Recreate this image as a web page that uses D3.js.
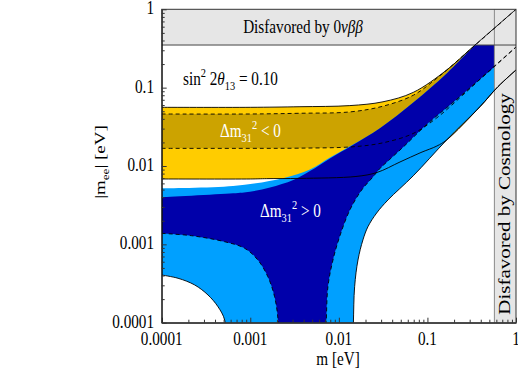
<!DOCTYPE html>
<html>
<head>
<meta charset="utf-8">
<script src="https://cdn.jsdelivr.net/npm/d3@7"></script>
<style>
  body { margin: 0; background: #fff; }
  text { font-family: "Liberation Serif", "Times New Roman", serif; }
</style>
</head>
<body>
<div id="chart"></div>
<script>
// axis ticks
var massTicks = [0.0001, 0.001, 0.01, 0.1, 1];
var massTickLabels = ["0.0001", "0.001", "0.01", "0.1", "1"];
var meeTicks = [0.0001, 0.001, 0.01, 0.1, 1];
var meeTickLabels = ["0.0001", "0.001", "0.01", "0.1", "1"];

// excluded regions
var mee0nbbLimit = 0.35;
var massCosmoLimit = 0.57;

// boundaries: [m (eV), |m_ee| (eV)]
// inverted hierarchy, full range (light yellow)
var ihOuterMax = [[1e-4, 0.0561], [1e-3, 0.0561], [3.64e-3, 0.0571], [0.0133, 0.059], [0.0315, 0.066],
  [0.0692, 0.087], [0.165, 0.168], [0.302, 0.307], [0.392, 0.398], [1, 1.0]];
var ihOuterMin = [[1e-4, 0.00683], [1e-3, 0.00683], [1.53e-3, 0.0069], [3.64e-3, 0.00695], [0.0156, 0.00735],
  [0.0269, 0.00826], [0.049, 0.01125], [0.0845, 0.01487], [0.128, 0.018], [0.165, 0.0215],
  [0.392, 0.0571], [0.625, 0.1028], [1, 0.168]];
// inverted hierarchy, best fit (dark yellow)
var ihBestMax = [[1e-4, 0.0461], [1e-3, 0.0461], [3.64e-3, 0.0471], [0.0133, 0.049], [0.0315, 0.058],
  [0.0692, 0.08], [0.127, 0.131], [0.302, 0.305], [1, 0.999]];
var ihBestMin = [[1e-4, 0.0168], [1e-3, 0.0168], [3.6e-3, 0.0169], [0.0145, 0.0176], [0.0317, 0.0198],
  [0.069, 0.026], [0.127, 0.041], [0.25, 0.08], [0.5, 0.165], [1, 0.33]];
// normal hierarchy, full range (light blue)
var nhOuterMax = [[1e-4, 5.19e-3], [6.4e-4, 5.55e-3], [2.34e-3, 6.97e-3], [4.72e-3, 9.0e-3], [7.94e-3, 0.0128],
  [0.0141, 0.0185], [0.0291, 0.0304], [0.0692, 0.0646], [0.165, 0.152], [0.302, 0.3], [0.392, 0.39], [1, 0.99]];
var nhOuterMin = [[0.0144, 5e-5], [0.0146, 1e-4], [0.01507, 2.88e-4], [0.01644, 6.31e-4], [0.0187, 1.14e-3],
  [0.0213, 1.68e-3], [0.0267, 2.51e-3], [0.0358, 3.68e-3], [0.0692, 7.5e-3], [0.165, 0.0215],
  [0.392, 0.0571], [0.625, 0.1028], [1, 0.168]];
var nhOuterHole = [[1e-4, 4.06e-4], [1.53e-4, 3.69e-4], [2.36e-4, 3.03e-4], [3.33e-4, 2.26e-4],
  [4.32e-4, 1.6e-4], [5.14e-4, 1.08e-4], [5.3e-4, 5e-5]];
// normal hierarchy, best fit (dark blue)
var nhBestMax = [[1e-4, 3.99e-3], [6.4e-4, 4.48e-3], [9.9e-4, 4.7e-3], [1.67e-3, 5.32e-3], [3.06e-3, 6.63e-3],
  [4.72e-3, 8.63e-3], [7.94e-3, 0.0125], [0.0141, 0.0183], [0.0291, 0.0303], [0.0692, 0.0645],
  [0.165, 0.152], [0.302, 0.3], [0.392, 0.39], [1, 0.99]];
var nhBestMin = [[0.007, 5e-5], [0.0072, 1e-4], [0.00753, 2.88e-4], [0.00858, 6.31e-4], [0.0102, 1.25e-3],
  [0.0133, 2.74e-3], [0.0181, 4.94e-3], [0.0244, 7.3e-3], [0.0291, 9.3e-3], [0.0377, 0.0122],
  [0.0557, 0.0183], [0.1, 0.0345], [0.2, 0.0665], [0.578, 0.188], [1, 0.33]];
var nhBestHole = [[1e-4, 1.38e-3], [2.16e-4, 1.29e-3], [5.14e-4, 1.08e-3], [8.65e-4, 8.9e-4], [1.22e-3, 6.3e-4],
  [1.58e-3, 3.86e-4], [1.88e-3, 2.15e-4], [2.06e-3, 1.08e-4], [2.1e-3, 5e-5]];

var width = 518, height = 382;
var pLeft = 161.7, pRight = 516, pTop = 9.3, pBottom = 322.7;
var sx = 0.8; // glyphs in the picture are narrow

var svg = d3.select("#chart").append("svg")
  .attr("width", width).attr("height", height);

var x = d3.scaleLog().domain([1e-4, 1]).range([pLeft, pRight]);
var y = d3.scaleLog().domain([1e-4, 1]).range([pBottom, pTop]);

svg.append("clipPath").attr("id", "plot")
  .append("rect").attr("x", pLeft).attr("y", pTop)
  .attr("width", pRight - pLeft).attr("height", pBottom - pTop);

var lineGen = d3.line()
  .x(d => x(d[0])).y(d => y(d[1]))
  .curve(d3.curveCatmullRom.alpha(0.5));

function joinPath(segs) {
  return segs.map((s, i) => {
    var p = lineGen(s);
    return i === 0 ? p : "L" + p.slice(1);
  }).join("") + "Z";
}
function rev(a) { return a.slice().reverse(); }

var g = svg.append("g").attr("clip-path", "url(#plot)");

// regions (yellow first, blue drawn over it)
g.append("path").attr("d", joinPath([ihOuterMax, rev(ihOuterMin)]))
  .attr("fill", "#ffcc00");
g.append("path").attr("d", joinPath([ihBestMax, rev(ihBestMin)]))
  .attr("fill", "#cca300");
g.append("path").attr("d", joinPath([nhOuterMax, rev(nhOuterMin), rev(nhOuterHole)]))
  .attr("fill", "#00a0ff");
g.append("path").attr("d", joinPath([nhBestMax, rev(nhBestMin), rev(nhBestHole)]))
  .attr("fill", "#0000aa");

// disfavored bands
g.append("rect").attr("x", pLeft).attr("y", pTop)
  .attr("width", pRight - pLeft).attr("height", y(mee0nbbLimit) - pTop)
  .attr("fill", "#e6e6e6");
g.append("rect").attr("x", x(massCosmoLimit)).attr("y", pTop)
  .attr("width", pRight - x(massCosmoLimit)).attr("height", pBottom - pTop)
  .attr("fill", "#e6e6e6");
g.append("line").attr("x1", x(massCosmoLimit)).attr("x2", x(massCosmoLimit))
  .attr("y1", pTop).attr("y2", pBottom).attr("stroke", "#8a8a8a").attr("stroke-width", 1);
g.append("line").attr("x1", pLeft).attr("x2", pRight)
  .attr("y1", y(mee0nbbLimit)).attr("y2", y(mee0nbbLimit))
  .attr("stroke", "#444").attr("stroke-width", 1);

// boundary curves
var solid = [ihOuterMax, ihOuterMin, nhOuterMin, nhOuterHole];
var dashed = [ihBestMax, ihBestMin, nhBestMin, nhBestHole];
solid.forEach(c => g.append("path").attr("d", lineGen(c))
  .attr("fill", "none").attr("stroke", "#000").attr("stroke-width", 0.9));
dashed.forEach(c => g.append("path").attr("d", lineGen(c))
  .attr("fill", "none").attr("stroke", "#000").attr("stroke-width", 0.9)
  .attr("stroke-dasharray", "4,3"));

// axes with minor ticks pointing inwards
var minor = [];
[1e-4, 1e-3, 1e-2, 1e-1].forEach(d => { for (var k = 1; k < 10; k++) minor.push(d * k); });
minor.push(1);

var xAxis = svg.append("g").attr("transform", "translate(0," + pBottom + ")")
  .call(d3.axisBottom(x).tickValues(minor).tickFormat("").tickSizeOuter(0));
var yAxis = svg.append("g").attr("transform", "translate(" + pLeft + ",0)")
  .call(d3.axisLeft(y).tickValues(minor).tickFormat("").tickSizeOuter(0));
function isMajor(d) { return Math.abs(Math.log10(d) - Math.round(Math.log10(d))) < 1e-6; }
xAxis.selectAll(".tick line").attr("y2", d => isMajor(d) ? -5 : -3).attr("stroke", "#333");
yAxis.selectAll(".tick line").attr("x2", d => isMajor(d) ? 5 : 3).attr("stroke", "#333");
xAxis.select(".domain").attr("stroke", "#000");
yAxis.select(".domain").attr("stroke", "#000");

svg.append("rect").attr("x", pLeft).attr("y", pTop)
  .attr("width", pRight - pLeft).attr("height", pBottom - pTop)
  .attr("fill", "none").attr("stroke", "#333").attr("stroke-width", 1);

// tick labels
massTicks.forEach((d, i) => {
  svg.append("text").attr("transform", "translate(" + x(d) + ",345) scale(" + sx + ",1)")
    .attr("text-anchor", "middle").attr("font-size", 19).text(massTickLabels[i]);
});
meeTicks.forEach((d, i) => {
  svg.append("text").attr("transform", "translate(154," + (y(d) + 5) + ") scale(" + sx + ",1)")
    .attr("text-anchor", "end").attr("font-size", 19).text(meeTickLabels[i]);
});

// rich text helper: parts = [text, kind] with kind "", "i", "sub", "sup"
function rich(t, parts, size) {
  var small = Math.round(size * 0.68);
  var shift = 0;
  parts.forEach(p => {
    var target = p[1] === "sub" ? size * 0.28 : p[1] === "sup" ? -size * 0.42 : 0;
    var ts = t.append("tspan").attr("dy", target - shift)
      .attr("font-size", (p[1] === "sub" || p[1] === "sup") ? small : size)
      .text(p[0]);
    if (p[1] === "i") ts.attr("font-style", "italic");
    shift = target;
  });
  return t;
}

rich(svg.append("text").attr("transform", "translate(303,33) scale(" + sx + ",1)")
  .attr("text-anchor", "middle").attr("font-size", 19),
  [["Disfavored by 0", ""], ["νββ", "i"]], 19);

rich(svg.append("text").attr("transform", "translate(183,85) scale(" + sx + ",1)")
  .attr("font-size", 19),
  [["sin", ""], ["2", "sup"], [" 2", ""], ["θ", "i"], ["13", "sub"], [" = 0.10", ""]], 19);

rich(svg.append("text").attr("transform", "translate(220,137) scale(" + sx + ",1)")
  .attr("font-size", 19).attr("fill", "#fff"),
  [["Δm", ""], ["31", "sub"], ["2", "sup"], [" < 0", ""]], 19);

rich(svg.append("text").attr("transform", "translate(260,217) scale(" + sx + ",1)")
  .attr("font-size", 19).attr("fill", "#fff"),
  [["Δm", ""], ["31", "sub"], ["2", "sup"], [" > 0", ""]], 19);

svg.append("text").attr("transform", "translate(510,204) rotate(-90) scale(1," + sx + ")")
  .attr("text-anchor", "middle").attr("font-size", 21).text("Disfavored by Cosmology");

// axis titles
svg.append("text").attr("transform", "translate(338,365) scale(" + sx + ",1)")
  .attr("text-anchor", "middle").attr("font-size", 19).text("m [eV]");
rich(svg.append("text").attr("transform", "translate(105,162) rotate(-90) scale(1," + sx + ")")
  .attr("text-anchor", "middle").attr("font-size", 19),
  [["|m", ""], ["ee", "sub"], ["| [eV]", ""]], 19);
</script>
</body>
</html>
